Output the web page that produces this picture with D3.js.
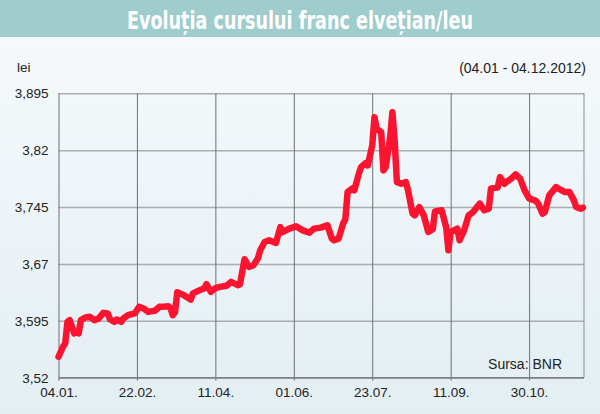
<!DOCTYPE html>
<html>
<head>
<meta charset="utf-8">
<script src="https://cdn.jsdelivr.net/npm/d3@7"></script>
<style>
  html, body { margin: 0; padding: 0; }
  body { width: 600px; height: 414px; overflow: hidden; }
  svg { display: block; }
</style>
</head>
<body>
<svg id="chart" width="600" height="414"></svg>
<script>
// ---- Data (BNR CHF/RON rate, 04.01 - 04.12.2012), x = trading-day index ----
const tradingDay = [0,2,3,4,5,6,7,8,9,10,12,14,16,18,20,22,23,25,26,28,29,31,34,36,38,40,43,45,47,49,50,51,52,53,56,59,60,63,65,66,68,70,72,75,77,80,81,83,85,87,89,90,92,94,97,99,100,103,106,109,112,114,117,120,122,123,125,127,128,129,131,132,134,135,137,138,140,141,142,144,145,146,148,149,150,151,153,155,156,158,159,161,163,165,167,168,171,173,174,175,178,179,181,183,185,188,190,192,193,196,197,199,202,204,206,208,210,213,214,216,217,219,222,224,226,228,230,231,233,234];
const rate = [3.5476,3.5608,3.5653,3.5937,3.5959,3.5871,3.5784,3.5805,3.5784,3.5959,3.5995,3.6003,3.5959,3.5982,3.6055,3.6047,3.5968,3.5937,3.5968,3.5937,3.5982,3.6025,3.6047,3.6134,3.6113,3.6068,3.6082,3.6134,3.6137,3.6143,3.6117,3.6025,3.6064,3.6328,3.6288,3.6229,3.6311,3.6354,3.6376,3.6433,3.6332,3.6380,3.6397,3.6413,3.6463,3.6420,3.6433,3.6762,3.6661,3.6683,3.6775,3.6880,3.6989,3.7012,3.6976,3.7187,3.7121,3.7166,3.7196,3.7143,3.7113,3.7166,3.7179,3.7209,3.7034,3.7012,3.7034,3.7232,3.7288,3.7647,3.7692,3.7670,3.7889,3.7976,3.8029,3.7999,3.8262,3.8634,3.8482,3.8437,3.7933,3.7976,3.8371,3.8700,3.8328,3.7779,3.7758,3.7779,3.7670,3.7363,3.7341,3.7450,3.7341,3.7121,3.7157,3.7393,3.7407,3.7183,3.6880,3.7121,3.7166,3.7012,3.7143,3.7341,3.7384,3.7495,3.7407,3.7429,3.7696,3.7709,3.7845,3.7758,3.7824,3.7880,3.7824,3.7670,3.7564,3.7532,3.7499,3.7363,3.7384,3.7604,3.7713,3.7679,3.7647,3.7647,3.7538,3.7450,3.7429,3.7442];

const xTickDays   = [0, 35, 70, 105, 140, 175, 210];
const xTickLabels = ["04.01.", "22.02.", "11.04.", "01.06.", "23.07.", "11.09.", "30.10."];
const yTicks      = [3.52, 3.595, 3.67, 3.745, 3.82, 3.895];
const yTickLabels = ["3,52", "3,595", "3,67", "3,745", "3,82", "3,895"];

const titleText = "Evoluția cursului franc elvețian/leu";
const unitText = "lei";
const periodText = "(04.01 - 04.12.2012)";
const sourceText = "Sursa: BNR";

// ---- Layout ----
const W = 600, H = 414;
const plot = { left: 58.5, right: 584, top: 93.3, bottom: 377.7 };

const svg = d3.select("#chart");
const defs = svg.append("defs");
const grad = defs.append("linearGradient").attr("id", "bg").attr("x1", 0).attr("y1", 0).attr("x2", 0).attr("y2", 1);
grad.append("stop").attr("offset", "0%").attr("stop-color", "#f7fafc");
grad.append("stop").attr("offset", "100%").attr("stop-color", "#e3eef3");

svg.append("rect").attr("width", W).attr("height", H).attr("fill", "url(#bg)");

// title banner
svg.append("rect").attr("x", 0).attr("y", 0).attr("width", W).attr("height", 37).attr("fill", "#9fcdcd");
svg.append("text")
  .attr("x", W / 2).attr("y", 29)
  .attr("text-anchor", "middle")
  .attr("font-family", "'DejaVu Sans Condensed', 'Liberation Sans Narrow', sans-serif")
  .attr("font-weight", "bold")
  .attr("font-size", 24)
  .attr("fill", "#ffffff")
  .attr("textLength", 346)
  .attr("lengthAdjust", "spacingAndGlyphs")
  .text(titleText);

const textFont = "'Liberation Sans', Arial, sans-serif";
svg.append("text").attr("x", 17).attr("y", 72).attr("font-family", textFont).attr("font-size", 13.5).attr("fill", "#222").text(unitText);
svg.append("text").attr("x", 586).attr("y", 73).attr("text-anchor", "end").attr("font-family", textFont).attr("font-size", 14).attr("fill", "#222").text(periodText);

// scales
const x = d3.scaleLinear().domain([0, 234.5]).range([plot.left, plot.right]);
const y = d3.scaleLinear().domain([3.52, 3.895]).range([plot.bottom, plot.top]);

// horizontal grid
const yAxis = d3.axisLeft(y).tickValues(yTicks).tickSize(-(plot.right - plot.left)).tickFormat((d, i) => yTickLabels[i]).tickPadding(10);
const gy = svg.append("g").attr("transform", `translate(${plot.left},0)`).call(yAxis);
gy.select(".domain").remove();
gy.selectAll(".tick line").attr("stroke", "#a9adb0").attr("stroke-width", 1.6);
gy.selectAll(".tick text").attr("font-family", textFont).attr("font-size", 13.5).attr("fill", "#222");

// vertical grid
const xAxis = d3.axisBottom(x).tickValues(xTickDays).tickSize(-(plot.bottom - plot.top)).tickFormat((d, i) => xTickLabels[i]).tickPadding(10);
const gx = svg.append("g").attr("transform", `translate(0,${plot.bottom})`).call(xAxis);
gx.select(".domain").remove();
gx.selectAll(".tick line").attr("stroke", "#6e7174").attr("stroke-width", 1).attr("y2", 3).attr("y1", -(plot.bottom - plot.top));
gx.selectAll(".tick text").attr("font-family", textFont).attr("font-size", 13.5).attr("fill", "#222");

// right border & bottom axis
svg.append("line").attr("x1", plot.right).attr("x2", plot.right).attr("y1", plot.top).attr("y2", plot.bottom).attr("stroke", "#8a8d90").attr("stroke-width", 1);
svg.append("line").attr("x1", plot.left).attr("x2", plot.right).attr("y1", plot.bottom).attr("y2", plot.bottom).attr("stroke", "#808386").attr("stroke-width", 1.4);

// source
svg.append("text").attr("x", 562).attr("y", 369).attr("text-anchor", "end").attr("font-family", textFont).attr("font-size", 14).attr("fill", "#222").text(sourceText);

// line
const data = tradingDay.map((d, i) => ({ d, v: rate[i] }));
const line = d3.line().x(p => x(p.d)).y(p => y(p.v)).curve(d3.curveLinear);
svg.append("path")
  .datum(data)
  .attr("d", line)
  .attr("fill", "none")
  .attr("stroke", "#fb1430")
  .attr("stroke-width", 6.5)
  .attr("stroke-linejoin", "round")
  .attr("stroke-linecap", "round");
</script>
</body>
</html>
